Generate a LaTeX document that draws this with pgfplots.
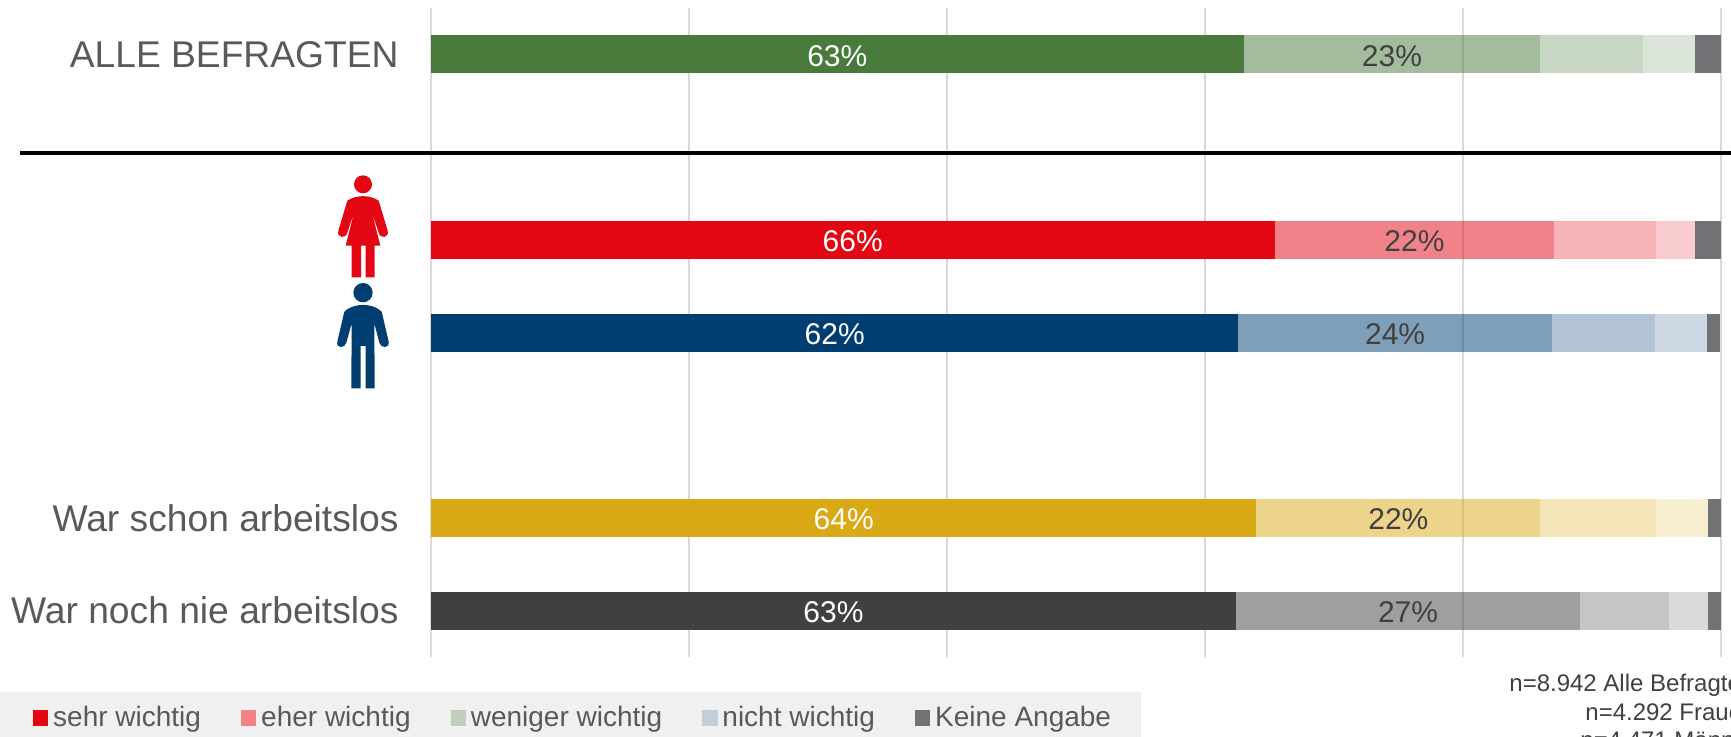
\documentclass[border=0pt]{standalone}
\usepackage{pgfplots}
\pgfplotsset{compat=1.18}
\usepackage{fontspec}
\setmainfont{Liberation Sans}

\definecolor{cgreen}{HTML}{487A3B}
\definecolor{cred}{HTML}{E30613}
\definecolor{cblue}{HTML}{003D71}
\definecolor{cgold}{HTML}{DAA916}
\definecolor{cdark}{HTML}{404040}
\definecolor{cgrey}{HTML}{717276}
\definecolor{ctext}{HTML}{595959}
\definecolor{clab}{HTML}{404040}

% one pixel of the reference is 0.5pt
\pgfplotsset{
  base/.style={
    at={(215.5pt,40pt)}, anchor=south west,
    scale only axis, width=644.9pt, height=324.5pt,
    xmin=0, xmax=100, ymin=-0.5, ymax=6.5, y dir=reverse,
    axis line style={draw=none}, tick style={draw=none},
    xtick={0,20,40,60,80,100}, xticklabels={},
    clip=false,
  },
  seg/.style={xbar stacked, bar width=19pt, draw=none, fill=#1, forget plot},
}
% row, five values, colour, two labels
\newcommand{\barrow}[9]{%
\begin{axis}[base, ytick=\empty, xtick=\empty, stack plots=x,
  after end axis/.code={%
    \node[white, yshift=-0.7pt, font=\fontsize{15}{15}\selectfont] at (axis cs:{#2/2},#1) {#8\%};
    \node[clab, yshift=-0.7pt, font=\fontsize{15}{15}\selectfont] at (axis cs:{#2+#3/2},#1) {#9\%};
  }]
\addplot[seg=#7] coordinates {(#2,#1)};
\addplot[seg=#7, fill opacity=0.5] coordinates {(#3,#1)};
\addplot[seg=#7, fill opacity=0.3] coordinates {(#4,#1)};
\addplot[seg=#7, fill opacity=0.2] coordinates {(#5,#1)};
\addplot[seg=cgrey] coordinates {(#6,#1)};
\end{axis}}

\begin{document}
\begin{tikzpicture}[x=1pt,y=1pt]
\useasboundingbox (0,0) rectangle (865.5,368.5);
\clip (0,0) rectangle (865.5,368.5);

% legend band
\fill[black!6] (0,0) rectangle (570.5,22.5);

\begin{axis}[base,
  xmajorgrids, grid style={draw=black!15, line width=0.8pt},
  ytick={0,5,6},
  yticklabels={ALLE BEFRAGTEN,War schon arbeitslos,War noch nie arbeitslos},
  yticklabel style={font=\fontsize{18.6}{18.6}\selectfont, text=ctext, xshift=-12.7pt},
  legend style={at={(0,0)}, anchor=north west, xshift=-199pt, yshift=-22.5pt,
    draw=none, fill=none, text=ctext, font=\fontsize{14}{14}\selectfont,
    inner sep=0pt, outer sep=0pt, legend columns=5,
    /tikz/every odd column/.append style={column sep=0.5pt},
    /tikz/every even column/.append style={column sep=18pt},
    legend cell align=left},
  legend image code/.code={\fill[#1] (0pt,-3.7pt) rectangle (7.2pt,3.7pt);},
]
\addlegendimage{cred}\addlegendentry{sehr wichtig}
\addlegendimage{cred!50}\addlegendentry{eher wichtig}
\addlegendimage{cgreen!35}\addlegendentry{weniger wichtig}
\addlegendimage{cblue!25}\addlegendentry{nicht wichtig}
\addlegendimage{cgrey}\addlegendentry{Keine Angabe}
\end{axis}

\barrow{0}{63}{23}{8}{4}{2}{cgreen}{63}{23}
\barrow{2}{65.4}{21.7}{7.9}{3}{2}{cred}{66}{22}
\barrow{3}{62.6}{24.3}{8}{4}{1}{cblue}{62}{24}
\barrow{5}{64}{22}{9}{4}{1}{cgold}{64}{22}
\barrow{6}{62.4}{26.7}{6.9}{3}{1}{cdark}{63}{27}

% separator
\draw[black, line width=2pt] (10,292.2) -- (865.5,292.2);

% woman
\begin{scope}[shift={(150,288.5)}, x=0.16667pt, y=-0.16667pt, cred]
\fill (189,73) circle[radius=27];
\fill (142,122) .. controls (170,104) and (208,104) .. (236,122)
  -- (263,212) .. controls (268,235) and (240,237) .. (236,218)
  -- (216,158) -- (241,257) -- (224,257) -- (224,352) -- (197,352) -- (197,257)
  -- (183,257) -- (183,352) -- (155,352) -- (155,257) -- (137,257) -- (162,158)
  -- (142,218) .. controls (138,237) and (110,235) .. (115,212) -- cycle;
\end{scope}

% man
\begin{scope}[shift={(150,288.5)}, x=0.16667pt, y=-0.16667pt, cblue]
\fill (189,398) circle[radius=29];
\fill (133,455) .. controls (160,428) and (218,428) .. (245,455)
  -- (266,545) .. controls (270,566) and (242,566) .. (238,548)
  -- (223,490) -- (224,685) -- (197,685) -- (197,558) -- (182,558) -- (182,685) -- (154,685)
  -- (155,490) -- (139,548) .. controls (135,566) and (107,566) .. (112,545) -- cycle;
\end{scope}

% sample sizes, run off the edge as in the source
\begin{scope}[every node/.style={anchor=base west, inner sep=0pt, text=clab, font=\fontsize{12}{12}\selectfont}]
\node at (754.5,22.5) {n=8.942 Alle Befragten};
\node at (792.5,8.25) {n=4.292 Frauen};
\node at (790,-6) {n=4.471 Männer};
\end{scope}
\end{tikzpicture}
\end{document}
